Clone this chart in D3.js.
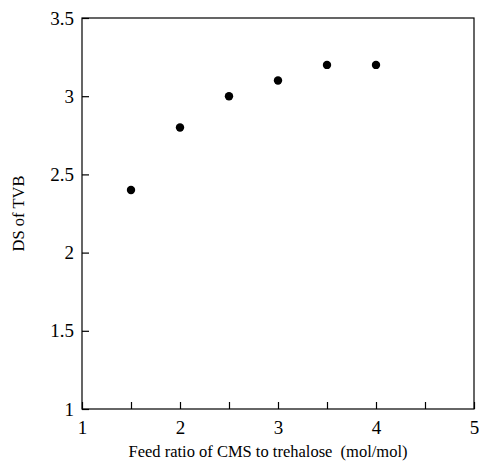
<!DOCTYPE html>
<html><head><meta charset="utf-8">
<script src="https://cdn.jsdelivr.net/npm/d3@7"></script>
<style>body{margin:0;background:#fff}svg{display:block}</style>
</head><body><svg id="c" width="479" height="467"></svg>
<script>
const feedRatio = [1.5, 2, 2.5, 3, 3.5, 4];
const dsValues = [2.4, 2.8, 3.0, 3.1, 3.2, 3.2];
const xTickLabels = [1, 2, 3, 4, 5];
const yTickLabels = [1, 1.5, 2, 2.5, 3, 3.5];
const xMinorTicks = [1.5, 2.5, 3.5, 4.5];
const FONT = "'Liberation Serif', 'Times New Roman', 'DejaVu Serif', serif";

const svg = d3.select("#c");
const L = 82, R = 474, T = 18, B = 409;
const x = d3.scaleLinear().domain([1, 5]).range([L, R]);
const y = d3.scaleLinear().domain([1, 3.5]).range([B, T]);

svg.append("rect").attr("x", L).attr("y", T).attr("width", R - L).attr("height", B - T)
  .attr("fill", "none").attr("stroke", "#000").attr("stroke-width", 1.2);

const xAxis = svg.append("g").attr("transform", `translate(0,${B})`)
  .call(d3.axisBottom(x).tickValues(xTickLabels.concat(xMinorTicks)).tickSize(-7).tickPadding(12)
    .tickFormat(d => xTickLabels.includes(d) ? d : ""));
xAxis.select(".domain").remove();

const yAxis = svg.append("g").attr("transform", `translate(${L},0)`)
  .call(d3.axisLeft(y).tickValues(yTickLabels).tickSize(-7).tickPadding(8).tickFormat(d => d));
yAxis.select(".domain").remove();
svg.selectAll("g").attr("font-family", FONT).attr("font-size", 19);
svg.selectAll(".tick text").style("font-family", FONT).style("font-size", "19px").attr("fill", "#000");
svg.selectAll(".tick line").attr("stroke", "#000").attr("stroke-width", 1.2);

svg.selectAll("circle.pt").data(feedRatio).join("circle").attr("class", "pt")
  .attr("cx", d => x(d)).attr("cy", (d, i) => y(dsValues[i])).attr("r", 4.2).attr("fill", "#000");

svg.append("text").attr("x", (L + R) / 2 - 10).attr("y", 457).attr("text-anchor", "middle")
  .style("font-family", FONT).style("font-size", "16.5px").attr("xml:space", "preserve")
  .text("Feed ratio of CMS to trehalose\u00a0 (mol/mol)");
svg.append("text").attr("transform", `translate(24,${(T + B) / 2}) rotate(-90)`).attr("text-anchor", "middle")
  .style("font-family", FONT).style("font-size", "16.5px").text("DS of TVB");
</script></body></html>
